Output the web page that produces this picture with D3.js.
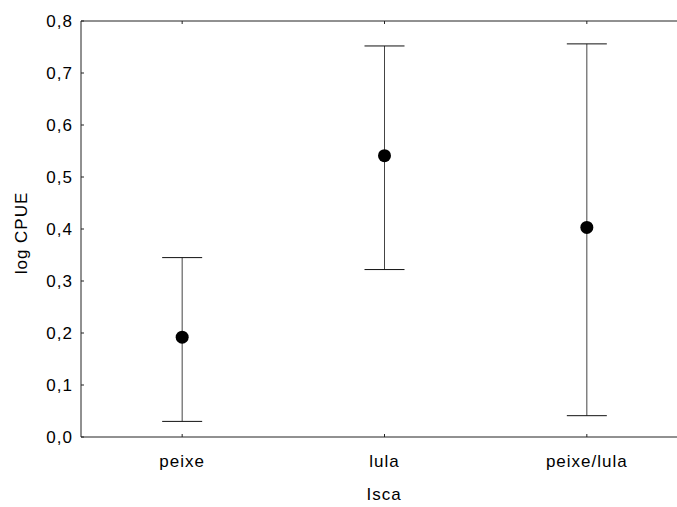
<!DOCTYPE html>
<html>
<head>
<meta charset="utf-8">
<script src="https://cdn.jsdelivr.net/npm/d3@7"></script>
<style>
  body { margin: 0; background: #fff; }
  svg { display: block; font-family: "Liberation Sans", Arial, sans-serif; }
  text { letter-spacing: 1px; }
</style>
</head>
<body>
<div id="chart"></div>
<script>
// data
let categories = ["peixe", "lula", "peixe/lula"];
let means = [0.192, 0.541, 0.403];
let lower = [0.030, 0.322, 0.041];
let upper = [0.345, 0.752, 0.756];
let yTicks = [0, 0.1, 0.2, 0.3, 0.4, 0.5, 0.6, 0.7, 0.8];

let W = 677, H = 507;
let margin = {top: 21, left: 81},
    plotW = 607,   // runs past the right edge, as in the original
    plotH = 416;

let svg = d3.select("#chart").append("svg")
    .attr("width", W)
    .attr("height", H);

let g = svg.append("g")
    .attr("transform", "translate(" + margin.left + "," + margin.top + ")");

let x = d3.scaleBand().domain(categories).range([0, plotW]);
let y = d3.scaleLinear().domain([0, 0.8]).range([plotH, 0]);
let cx = d => x(d) + x.bandwidth() / 2;
let fmt = d => d3.format(".1f")(d).replace(".", ",");

// frame: left, top, bottom
g.append("line").attr("x1", 0).attr("x2", 0).attr("y1", 0).attr("y2", plotH)
  .attr("stroke", "#222");
g.append("line").attr("x1", 0).attr("x2", plotW).attr("y1", 0).attr("y2", 0)
  .attr("stroke", "#222");
g.append("line").attr("x1", 0).attr("x2", plotW).attr("y1", plotH).attr("y2", plotH)
  .attr("stroke", "#222");

// y ticks (inward) and labels
g.selectAll(".ytick").data(yTicks).enter().append("line")
  .attr("x1", 0).attr("x2", 3)
  .attr("y1", d => y(d)).attr("y2", d => y(d))
  .attr("stroke", "#222");
g.selectAll(".ylab").data(yTicks).enter().append("text")
  .attr("x", -8).attr("y", d => y(d))
  .attr("dy", "0.35em")
  .attr("text-anchor", "end")
  .attr("font-size", 17)
  .text(fmt);

// x ticks top and bottom (inward) and labels
categories.forEach(c => {
  g.append("line").attr("x1", cx(c)).attr("x2", cx(c)).attr("y1", 0).attr("y2", 3)
    .attr("stroke", "#222");
  g.append("line").attr("x1", cx(c)).attr("x2", cx(c)).attr("y1", plotH).attr("y2", plotH - 3)
    .attr("stroke", "#222");
});
g.selectAll(".xlab").data(categories).enter().append("text")
  .attr("x", d => cx(d)).attr("y", plotH + 24)
  .attr("dy", "0.35em")
  .attr("text-anchor", "middle")
  .attr("font-size", 17)
  .text(d => d);

// error bars
let capHalf = 20;
categories.forEach((c, i) => {
  g.append("line")
    .attr("x1", cx(c)).attr("x2", cx(c))
    .attr("y1", y(upper[i])).attr("y2", y(lower[i]))
    .attr("stroke", "#444");
  [upper[i], lower[i]].forEach(v => {
    g.append("line")
      .attr("x1", cx(c) - capHalf).attr("x2", cx(c) + capHalf)
      .attr("y1", y(v)).attr("y2", y(v))
      .attr("stroke", "#111");
  });
  g.append("circle")
    .attr("cx", cx(c)).attr("cy", y(means[i]))
    .attr("r", 6.5)
    .attr("fill", "#000");
});

// axis titles
svg.append("text")
  .attr("x", 384).attr("y", 494)
  .attr("dy", "0.35em")
  .attr("text-anchor", "middle")
  .attr("font-size", 17)
  .text("Isca");

svg.append("text")
  .attr("transform", "translate(21,233) rotate(-90)")
  .attr("dy", "0.35em")
  .attr("text-anchor", "middle")
  .attr("font-size", 17)
  .text("log CPUE");
</script>
</body>
</html>
